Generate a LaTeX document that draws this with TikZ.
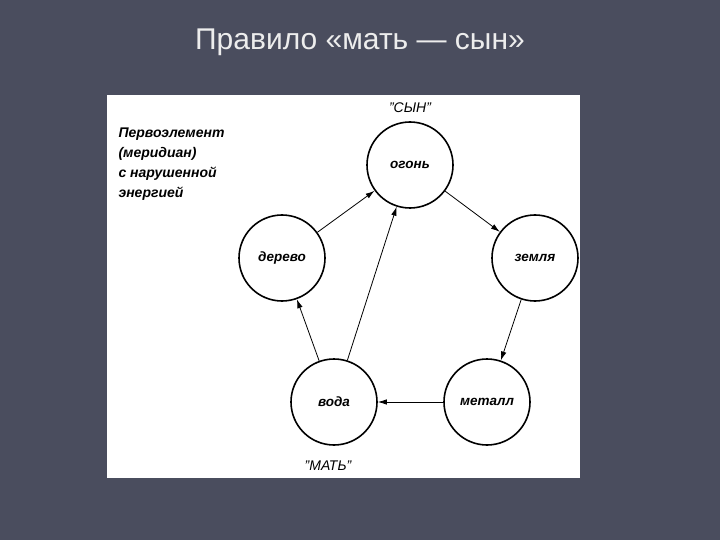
\documentclass[tikz,border=0pt]{standalone}
\usepackage{fontspec}
\setmainfont{Liberation Sans}
\usetikzlibrary{arrows.meta}
\definecolor{bg}{HTML}{4A4D5E}
\definecolor{ttl}{HTML}{EDEDED}
\begin{document}
\begin{tikzpicture}[x=1pt,y=-1pt,
  elem/.style={circle,draw,line width=1.6pt,minimum size=86pt,inner sep=0pt,font=\fontsize{13.5}{15}\selectfont\bfseries\itshape},
  arr/.style={line width=0.8pt,-{Latex[length=9pt,width=5.5pt]}},
  lbl/.style={font=\fontsize{14}{16}\selectfont\itshape}]
\fill[bg] (0,0) rectangle (720,540);
\useasboundingbox (0,0) rectangle (720,540);
\node[text=ttl,font=\fontsize{30}{34}\selectfont] (title) at (360,42) {Правило «мать — сын»};
\fill[white] (107,95) rectangle (580,478);
\node[elem] (fire) at (410,165) {огонь};
\node[elem] (earth) at (535,258) {земля};
\node[elem] (metal) at (487,402) {металл};
\node[elem] (water) at (334,402) {вода};
\node[elem] (wood) at (282,258) {дерево};
\node[lbl] (son) at (410,108) {"СЫН"};
\node[lbl] (mother) at (328,466) {"МАТЬ"};
\node[font=\fontsize{14}{20}\selectfont\bfseries\itshape,align=left,anchor=north west] (note) at (115,124) {Первоэлемент\\(меридиан)\\с нарушенной\\энергией};
\draw[arr] (fire) -- (earth);
\draw[arr] (earth) -- (metal);
\draw[arr] (metal) -- (water);
\draw[arr] (water) -- (wood);
\draw[arr] (wood) -- (fire);
\draw[arr] (water) -- (fire);
\end{tikzpicture}
\end{document}
